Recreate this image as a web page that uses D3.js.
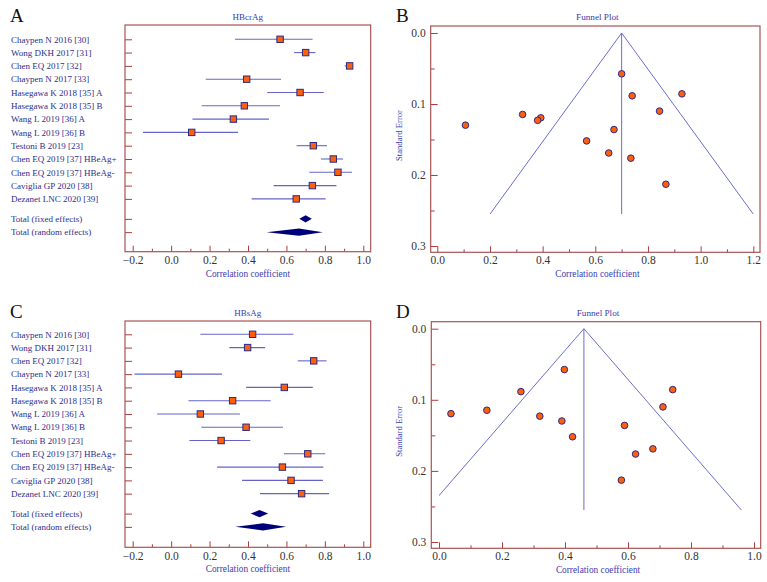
<!DOCTYPE html>
<html><head><meta charset="utf-8">
<script src="https://cdn.jsdelivr.net/npm/d3@7"></script>
<style>
body{margin:0;background:#fff;}
svg{display:block;font-family:"Liberation Serif",serif;}
</style></head>
<body><svg id="c" width="767" height="582"></svg>
<script>
// ---------- data ----------
const studies = ["Chaypen N 2016 [30]","Wong DKH 2017 [31]","Chen EQ 2017 [32]","Chaypen N 2017 [33]",
  "Hasegawa K 2018 [35] A","Hasegawa K 2018 [35] B","Wang L 2019 [36] A","Wang L 2019 [36] B",
  "Testoni B 2019 [23]","Chen EQ 2019 [37] HBeAg+","Chen EQ 2019 [37] HBeAg-","Caviglia GP 2020 [38]","Dezanet LNC 2020 [39]"];
const pooledLabels = ["Total (fixed effects)","Total (random effects)"];

const hbcrR  = [0.567,0.700,0.929,0.393,0.671,0.381,0.324,0.107,0.740,0.844,0.868,0.735,0.651];
const hbcrLo = [0.332,0.640,0.903,0.180,0.500,0.159,0.111,-0.146,0.653,0.780,0.719,0.533,0.419];
const hbcrHi = [0.736,0.751,0.947,0.572,0.794,0.567,0.509,0.348,0.811,0.895,0.941,0.860,0.804];
const hbcrPooled = [[0.700,0.667,0.732],[0.665,0.497,0.789]]; // [estimate, lo, hi]

const hbsR  = [0.424,0.398,0.742,0.038,0.589,0.320,0.152,0.390,0.260,0.711,0.579,0.624,0.679];
const hbsLo = [0.152,0.303,0.659,-0.191,0.390,0.090,-0.073,0.157,0.095,0.587,0.239,0.369,0.463];
const hbsHi = [0.636,0.489,0.809,0.265,0.737,0.518,0.358,0.582,0.412,0.802,0.792,0.790,0.822];
const hbsPooled = [[0.460,0.414,0.505],[0.478,0.334,0.598]];

const stdErr = [0.152,0.0575,0.0857,0.1195,0.136,0.123,0.1147,0.1298,0.0885,0.110,0.213,0.1763,0.169];
const funnelMaxSE = 0.255;

const forestTicks = [-0.2,0.0,0.2,0.4,0.6,0.8,1.0];
const forestMinor = [-0.1,0.1,0.3,0.5,0.7,0.9];
const funnelYTicks = [0.0,0.1,0.2,0.3];
const funnelYMinor = [0.05,0.15,0.25];
const funnelXTicksB = [0.0,0.2,0.4,0.6,0.8,1.0,1.2];
const funnelXMinorB = [0.1,0.3,0.5,0.7,0.9,1.1];
const funnelXTicksD = [0.0,0.2,0.4,0.6,0.8,1.0];
const funnelXMinorD = [0.1,0.3,0.5,0.7,0.9];

// ---------- styles ----------
const FRAME = "#a85454", TICK = "#b03c3c", LBL = "#2e2e8c", BLUE = "#3c3cae",
      CI = "#6464c8", SQ = "#ff5e0a", SQS = "#2a2a88", DIA = "#00007c";

const svg = d3.select("#c");
const fmt = d3.format(".1f");
const fmtNeg = v => (v < 0 ? "\u2212" + fmt(-v) : fmt(v));

function styleAxis(g, color){
  g.select(".domain").remove();
  g.selectAll(".tick line").attr("stroke", color).attr("stroke-width", 1);
  g.selectAll(".tick text").attr("fill", "#333").attr("font-family", "Liberation Serif").attr("font-size", 11.5);
}

function forest(cfg){
  const {left,right,top,bottom,letter,title,r,lo,hi,pooled,row0,rowStep} = cfg;
  const g = svg.append("g");
  const x = d3.scaleLinear().domain([-0.2,1.0]).range([left+7.7, right-7.4]);
  const y = d3.scaleLinear().domain([0,1]).range([row0, row0+rowStep]);
  const rowsIdx = studies.map((d,i)=>i);
  const pooledIdx = [13.5, 14.5];

  g.append("text").attr("x",10).attr("y",top-3).attr("font-size",19).attr("fill","#111").text(letter);
  g.append("text").attr("x",(left+right)/2).attr("y",top-5).attr("text-anchor","middle")
    .attr("font-size",9).attr("fill",BLUE).text(title);

  // axes
  g.append("g").attr("transform",`translate(0,${bottom})`)
    .call(d3.axisBottom(x).tickValues(forestTicks).tickSize(-6).tickPadding(4.5).tickFormat(fmtNeg))
    .call(a=>styleAxis(a,TICK));
  g.append("g").attr("transform",`translate(0,${bottom})`)
    .call(d3.axisBottom(x).tickValues(forestMinor).tickSize(-3).tickFormat(""))
    .call(a=>styleAxis(a,TICK));
  g.append("g").attr("transform",`translate(${left},0)`)
    .call(d3.axisLeft(y).tickValues(rowsIdx.concat(pooledIdx)).tickSize(-7).tickFormat(""))
    .call(a=>styleAxis(a,TICK));

  g.append("rect").attr("x",left).attr("y",top).attr("width",right-left).attr("height",bottom-top)
    .attr("fill","none").attr("stroke",FRAME).attr("stroke-width",1.2);

  g.append("text").attr("x",(left+right)/2).attr("y",bottom+25).attr("text-anchor","middle")
    .attr("font-size",9.3).attr("fill",BLUE).text("Correlation coefficient");

  // labels
  g.selectAll("text.lab").data(studies.concat(pooledLabels)).join("text").attr("class","lab")
    .attr("x",11).attr("y",(d,i)=> y(i<13 ? i : pooledIdx[i-13]) + 3.2)
    .attr("font-size",9).attr("fill",LBL).text(d=>d);

  // CIs
  g.selectAll("line.ci").data(rowsIdx).join("line").attr("class","ci")
    .attr("x1",i=>x(lo[i])).attr("x2",i=>x(hi[i])).attr("y1",i=>y(i)).attr("y2",i=>y(i))
    .attr("stroke",CI).attr("stroke-width",1.1);
  const s = 6.4;
  g.selectAll("rect.sq").data(rowsIdx).join("rect").attr("class","sq")
    .attr("x",i=>x(r[i])-s/2).attr("y",i=>y(i)-s/2).attr("width",s).attr("height",s)
    .attr("fill",SQ).attr("stroke",SQS).attr("stroke-width",1);

  // diamonds
  g.selectAll("path.dia").data(pooled).join("path").attr("class","dia")
    .attr("d",(p,k)=>{const yy=y(pooledIdx[k]), h=3.6;
      return `M${x(p[1])},${yy}L${x(p[0])},${yy-h}L${x(p[2])},${yy}L${x(p[0])},${yy+h}Z`;})
    .attr("fill",DIA);
}

function funnel(cfg){
  const {left,right,top,bottom,letter,r,center,xDom,xRange,yRange,xt,xm,clipId} = cfg;
  const g = svg.append("g");
  const x = d3.scaleLinear().domain(xDom).range(xRange);
  const y = d3.scaleLinear().domain([0,0.3]).range(yRange);

  g.append("text").attr("x",396).attr("y",top-4).attr("font-size",19).attr("fill","#111").text(letter);
  g.append("text").attr("x",(left+right)/2+2).attr("y",top-6).attr("text-anchor","middle")
    .attr("font-size",9.2).attr("fill",BLUE).text("Funnel Plot");

  g.append("g").attr("transform",`translate(0,${bottom})`)
    .call(d3.axisBottom(x).tickValues(xt).tickSize(-6).tickPadding(3.5).tickFormat(fmt))
    .call(a=>styleAxis(a,TICK));
  g.append("g").attr("transform",`translate(0,${bottom})`)
    .call(d3.axisBottom(x).tickValues(xm).tickSize(-3).tickFormat(""))
    .call(a=>styleAxis(a,TICK));
  g.append("g").attr("transform",`translate(${left},0)`)
    .call(d3.axisLeft(y).tickValues(funnelYTicks).tickSize(-7).tickPadding(5).tickFormat(fmt))
    .call(a=>styleAxis(a,TICK));
  g.append("g").attr("transform",`translate(${left},0)`)
    .call(d3.axisLeft(y).tickValues(funnelYMinor).tickSize(-4).tickFormat(""))
    .call(a=>styleAxis(a,TICK));

  g.append("rect").attr("x",left).attr("y",top).attr("width",right-left).attr("height",bottom-top)
    .attr("fill","none").attr("stroke",FRAME).attr("stroke-width",1.2);

  g.append("text").attr("x",(left+right)/2+2).attr("y",bottom+25).attr("text-anchor","middle")
    .attr("font-size",9.3).attr("fill",BLUE).text("Correlation coefficient");
  const yc = (y(0)+y(0.3))/2 - 4;
  g.append("text").attr("transform",`translate(402,${yc}) rotate(-90)`).attr("text-anchor","middle")
    .attr("font-size",8.6).attr("fill",BLUE).text("Standard Error");

  // funnel lines, clipped at axis minimum
  svg.append("clipPath").attr("id",clipId).append("rect")
    .attr("x",x(xDom[0] < 0 ? 0 : xDom[0])).attr("y",top).attr("width",right-x(0)).attr("height",bottom-top);
  const half = 1.96*funnelMaxSE;
  const fl = g.append("g").attr("clip-path",`url(#${clipId})`).attr("stroke","#6c6cce").attr("stroke-width",1).attr("fill","none");
  fl.append("path").attr("d",d3.line()([[x(center-half),y(funnelMaxSE)],[x(center),y(0)],[x(center+half),y(funnelMaxSE)]]));
  fl.append("line").attr("x1",x(center)).attr("x2",x(center)).attr("y1",y(0)).attr("y2",y(funnelMaxSE));

  g.selectAll("circle").data(r.map((v,i)=>[v,stdErr[i]])).join("circle")
    .attr("cx",d=>x(d[0])).attr("cy",d=>y(d[1])).attr("r",3.3)
    .attr("fill",SQ).attr("stroke",SQS).attr("stroke-width",1);
}

forest({left:125,right:370.7,top:25,bottom:251.7,letter:"A",title:"HBcrAg",
  r:hbcrR,lo:hbcrLo,hi:hbcrHi,pooled:hbcrPooled,row0:39.3,rowStep:13.3});
forest({left:125,right:370.7,top:321,bottom:547.3,letter:"C",title:"HBsAg",
  r:hbsR,lo:hbsLo,hi:hbsHi,pooled:hbsPooled,row0:334.3,rowStep:13.28});

funnel({left:430.7,right:760,top:26,bottom:252.3,letter:"B",r:hbcrR,center:hbcrPooled[0][0],
  xDom:[0,1.2],xRange:[437.3,753.3],yRange:[33,246],xt:funnelXTicksB,xm:funnelXMinorB,clipId:"cb"});
funnel({left:431.3,right:760.7,top:321.7,bottom:548.3,letter:"D",r:hbsR,center:hbsPooled[0][0],
  xDom:[0,1.0],xRange:[439,754],yRange:[328.7,542],xt:funnelXTicksD,xm:funnelXMinorD,clipId:"cd"});
</script></body></html>
